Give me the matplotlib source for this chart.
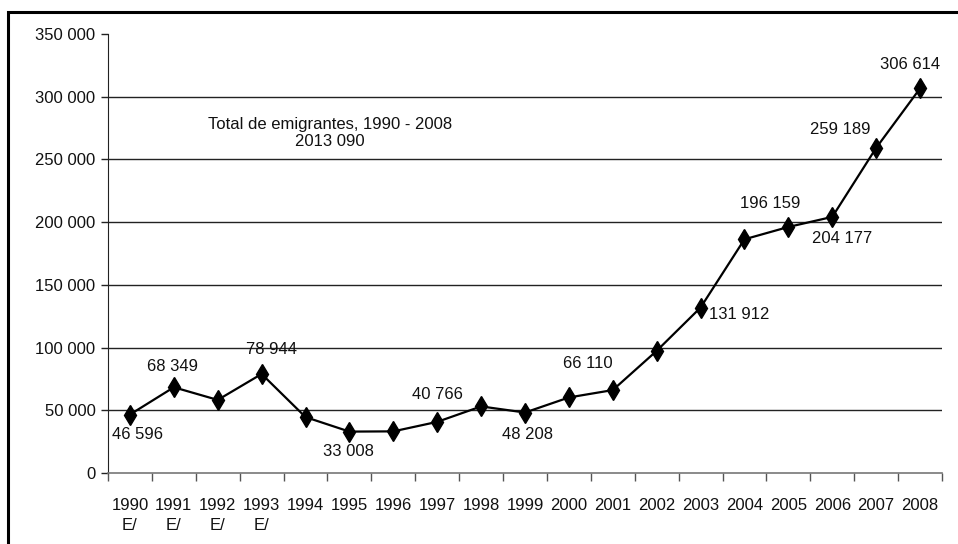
import matplotlib
matplotlib.use("Agg")
import matplotlib.pyplot as plt
from matplotlib.patches import Rectangle

plt.rcParams['font.family'] = ['Liberation Sans', 'DejaVu Sans']

years = ["1990\nE/", "1991\nE/", "1992\nE/", "1993\nE/", "1994", "1995", "1996", "1997",
         "1998", "1999", "2000", "2001", "2002", "2003", "2004", "2005", "2006", "2007", "2008"]
values = [46596, 68349, 58255, 78944, 44571, 33008, 33193, 40766, 53088, 48208,
          60231, 66110, 97400, 131912, 186320, 196159, 204177, 259189, 306614]
labels = ["46 596", "68 349", None, "78 944", None, "33 008", None, "40 766", None, "48 208",
          None, "66 110", None, "131 912", None, "196 159", "204 177", "259 189", "306 614"]
yticks = [0, 50000, 100000, 150000, 200000, 250000, 300000, 350000]
ytick_labels = ["0", "50 000", "100 000", "150 000", "200 000", "250 000", "300 000", "350 000"]
note_text = "Total de emigrantes, 1990 - 2008\n2013 090"

# label offsets in pixels (dx, dy)
offsets = {0: (8, -20), 1: (-1, 21), 3: (10, 24), 5: (-1, -20), 7: (0, 27), 9: (3, -22),
           11: (-25, 27), 13: (39, -7), 15: (-18, 23), 16: (10, -22), 17: (-36, 18), 18: (-10, 24)}

W, H = 958, 544
FS = 12
fig = plt.figure(figsize=(W / 100, H / 100), dpi=100)
fig.patches.append(Rectangle((8 / W, -0.2), 1.2, 1.2 - 12 / H, transform=fig.transFigure,
                             fill=False, edgecolor='black', linewidth=2.2, zorder=0))
ax = fig.add_axes([108 / W, 1 - 473 / H, (942 - 108) / W, (473 - 34) / H])

n = len(values)
xs = list(range(n))
ax.set_xlim(-0.5, n - 0.5)
ax.set_ylim(0, 350000)

for y in yticks[1:-1]:
    ax.axhline(y, color='#222222', linewidth=1.0, zorder=1)

ax.plot(xs, values, color='black', linewidth=1.6, marker='d', markersize=10.5,
        markerfacecolor='black', markeredgecolor='black', zorder=3)

for i, lab in enumerate(labels):
    if lab is None:
        continue
    dx, dy = offsets[i]
    ax.annotate(lab, (xs[i], values[i]), xytext=(dx, dy), textcoords='offset pixels',
                ha='center', va='center', fontsize=FS, color='#111111')

ax.text(330, 544 - 133, note_text, transform=None, ha='center', va='center',
        fontsize=FS, color='#111111', linespacing=1.2)

ax.set_yticks(yticks)
ax.set_yticklabels(ytick_labels, fontsize=FS, color='#111111')
ax.set_xticks(xs)
ax.set_xticklabels(years, fontsize=FS, color='#111111', linespacing=1.45, va='top')
ax.tick_params(axis='x', length=0, pad=18)
ax.set_xticks([i - 0.5 for i in range(n + 1)], minor=True)
ax.tick_params(axis='x', which='minor', length=6, width=1, color='#555555', direction='out')
ax.tick_params(axis='y', length=5, width=1, color='#222222', direction='out', pad=4)

for s in ['top', 'right']:
    ax.spines[s].set_visible(False)
ax.spines['left'].set_color('#222222')
ax.spines['bottom'].set_color('#777777')
ax.spines['bottom'].set_linewidth(1.2)

fig.savefig("out.png", dpi=100)
